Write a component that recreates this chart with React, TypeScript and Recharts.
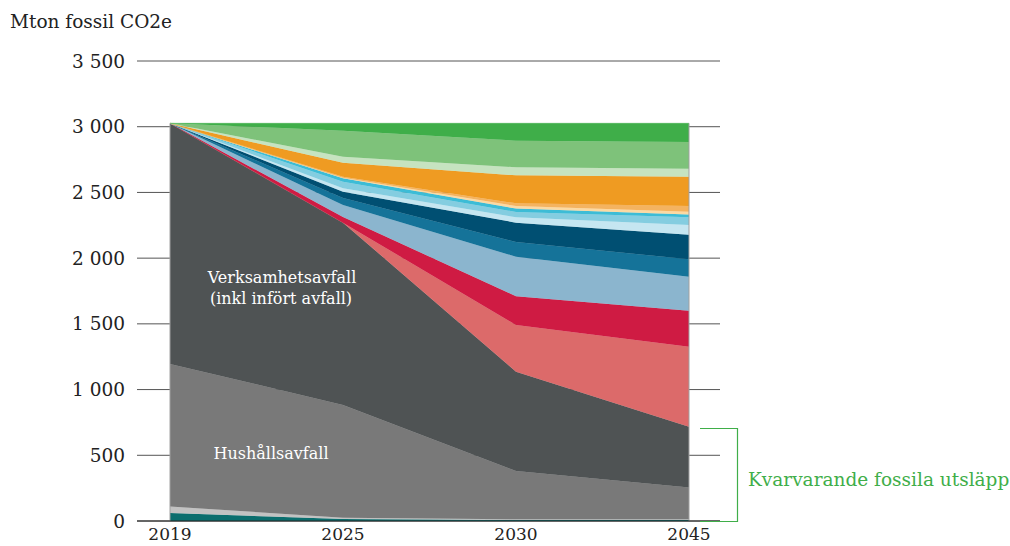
import React from 'react';
import { AreaChart, Area, XAxis, YAxis, CartesianGrid, ReferenceLine } from 'recharts';

const years = ['2019', '2025', '2030', '2045'];
const yTicks = [0, 500, 1000, 1500, 2000, 2500, 3000, 3500];

// stacked series, bottom to top
const teal = [60, 15, 8, 8];
const lightGrey = [50, 10, 5, 5];
const household = [1085, 858, 367, 241];
const business = [1831, 1387, 756, 464];
const salmon = [0, 0, 355, 608];
const red = [0, 43, 219, 274];
const steel = [0, 91, 301, 259];
const blue = [0, 53, 112, 132];
const navy = [0, 49, 147, 187];
const paleBlue = [0, 25, 41, 74];
const lightBlue = [0, 51, 40, 59];
const cyan = [0, 25, 26, 22];
const paleOrange = [0, 5, 20, 20];
const lightOrange = [0, 8, 20, 44];
const orange = [0, 106, 213, 223];
const paleGreen = [0, 46, 61, 61];
const lightGreen = [0, 198, 203, 203];
const green = [0, 56, 132, 142];

const seriesList: { key: string; values: number[]; color: string }[] = [
  { key: 'teal', values: teal, color: '#0b6e6e' },
  { key: 'lightGrey', values: lightGrey, color: '#c2c2c2' },
  { key: 'household', values: household, color: '#797979' },
  { key: 'business', values: business, color: '#4f5354' },
  { key: 'salmon', values: salmon, color: '#dc6a6a' },
  { key: 'red', values: red, color: '#cf1b43' },
  { key: 'steel', values: steel, color: '#8bb5ce' },
  { key: 'blue', values: blue, color: '#157399' },
  { key: 'navy', values: navy, color: '#004f72' },
  { key: 'paleBlue', values: paleBlue, color: '#c5e6f1' },
  { key: 'lightBlue', values: lightBlue, color: '#84cde0' },
  { key: 'cyan', values: cyan, color: '#3dbcd6' },
  { key: 'paleOrange', values: paleOrange, color: '#fbd9a3' },
  { key: 'lightOrange', values: lightOrange, color: '#f4b360' },
  { key: 'orange', values: orange, color: '#ef9b22' },
  { key: 'paleGreen', values: paleGreen, color: '#c6e3c0' },
  { key: 'lightGreen', values: lightGreen, color: '#7ec27a' },
  { key: 'green', values: green, color: '#3fae49' },
];

const data = years.map((year, i) => {
  const row: Record<string, number | string> = { year };
  let total = 0;
  seriesList.forEach((s) => {
    row[s.key] = s.values[i];
    total += s.values[i];
  });
  row.total = total;
  return row;
});

const FONT = '"DejaVu Serif", serif';
const fmt = (v: number) => (v >= 1000 ? `${Math.floor(v / 1000)} ${String(v % 1000).padStart(3, '0')}` : String(v));

export default function App() {
  return (
    <div style={{ position: 'absolute', left: 0, top: 0, width: 1010, height: 546, background: '#fff', fontFamily: FONT }}>
      <AreaChart width={1010} height={546} data={data} margin={{ top: 61, right: 290, bottom: 0, left: 0 }}>
        <CartesianGrid vertical={false} stroke="#555" />
        <XAxis
          dataKey="year"
          padding={{ left: 33, right: 31 }}
          tickLine={false}
          axisLine={{ stroke: '#222' }}
          tickSize={6}
          tickMargin={1}
          height={25}
          tick={{ fill: '#222', fontSize: 17, fontFamily: FONT }}
        />
        <YAxis
          domain={[0, 3500]}
          ticks={yTicks}
          width={137}
          axisLine={false}
          tickLine={false}
          tickSize={6}
          tickMargin={6}
          tickFormatter={fmt}
          tick={{ fill: '#222', fontSize: 18.5, fontFamily: FONT }}
        />
        {seriesList.map((s) => (
          <Area
            key={s.key}
            type="linear"
            dataKey={s.key}
            stackId="a"
            fill={s.color}
            fillOpacity={1}
            stroke={s.color}
            strokeWidth={0.5}
            isAnimationActive={false}
          />
        ))}
        <ReferenceLine segment={[{ x: '2045', y: 0 }, { x: '2045', y: data[3].total as number }]} stroke="#a0a0a0" />
        <ReferenceLine segment={[{ x: '2019', y: 0 }, { x: '2019', y: data[0].total as number }]} stroke="#a0a0a0" />
      </AreaChart>
      <svg width={1010} height={546} style={{ position: 'absolute', left: 0, top: 0, pointerEvents: 'none' }}>
        <text x={10} y={28} fontSize={18.5} fill="#222" fontFamily={FONT}>Mton fossil CO2e</text>
        <text x={282} y={283} fontSize={16} fill="#fff" textAnchor="middle" fontFamily={FONT}>Verksamhetsavfall</text>
        <text x={281} y={304} fontSize={16} fill="#fff" textAnchor="middle" fontFamily={FONT}>(inkl infört avfall)</text>
        <text x={271} y={459} fontSize={16} fill="#fff" textAnchor="middle" fontFamily={FONT}>Hushållsavfall</text>
        <polyline points="700,428.5 737.5,428.5 737.5,521.5 700,521.5" fill="none" stroke="#3fae49" strokeWidth={1.2} />
        <text x={748} y={486} fontSize={18.5} fill="#3fae49" fontFamily={FONT}>Kvarvarande fossila utsläpp</text>
      </svg>
    </div>
  );
}
